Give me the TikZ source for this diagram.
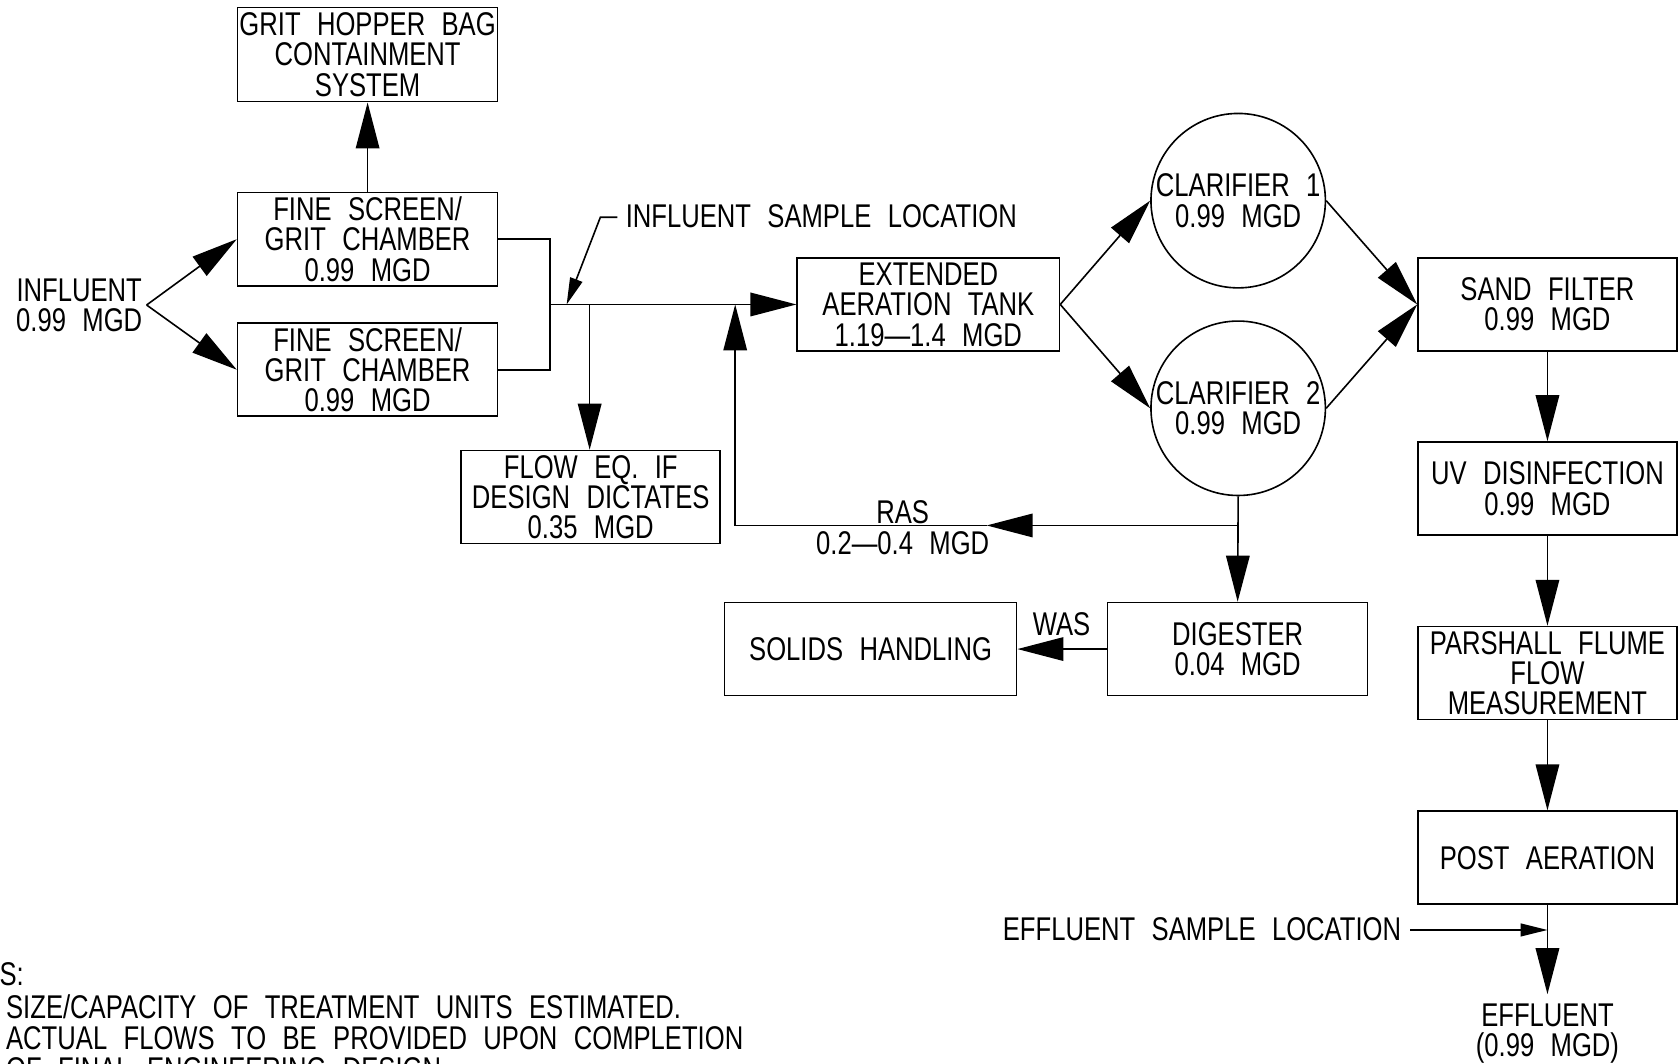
\documentclass[tikz,border=0pt]{standalone}
\usepackage{fontspec}
\setmainfont{Liberation Sans}[FakeStretch=0.78,WordSpace=2.3]
\usetikzlibrary{arrows.meta}
\newcommand\cadfont{\fontsize{30.7}{28.4}\selectfont\lineskiplimit=-100pt }
\begin{document}
\begin{tikzpicture}[x=1pt,y=-1pt,line width=1.5pt,
  txt/.style={font=\cadfont,align=center,inner sep=0pt},
  box/.style={draw,rectangle,minimum width=243pt,minimum height=87pt,inner sep=0pt,font=\cadfont,align=center},
  clar/.style={draw,circle,minimum size=163pt,inner sep=0pt,font=\cadfont,align=center},
  big/.style={-{Triangle[length=43pt,width=22pt]}},
  small/.style={-{Triangle[length=25pt,width=12pt]}}]
\clip (0,0) rectangle (1568,994);
\fill[white] (0,0) rectangle (1568,994);

% boxes
\node[box,minimum height=88pt] (grit) at (343.5,51) {GRIT HOPPER BAG\\CONTAINMENT\\SYSTEM};
\node[box] (fs1) at (343.5,223.5) {FINE SCREEN/\\GRIT CHAMBER\\0.99 MGD};
\node[box] (fs2) at (343.5,345.5) {FINE SCREEN/\\GRIT CHAMBER\\0.99 MGD};
\node[box,minimum width=242pt] (feq) at (552,464.5) {FLOW EQ. IF\\DESIGN DICTATES\\0.35 MGD};
\node[box,minimum width=245pt] (aer) at (867.5,284.5) {EXTENDED\\AERATION TANK\\1.19—1.4 MGD};
\node[clar] (c1) at (1157,187.5) {CLARIFIER 1\\0.99 MGD};
\node[clar] (c2) at (1157,381.5) {CLARIFIER 2\\0.99 MGD};
\node[box,minimum width=242pt] (sand) at (1446,284.5) {SAND FILTER\\0.99 MGD};
\node[box,minimum width=242pt] (uv) at (1446,456.5) {UV DISINFECTION\\0.99 MGD};
\node[box,minimum width=242pt] (pf) at (1446,629) {PARSHALL FLUME\\FLOW\\MEASUREMENT};
\node[box,minimum width=242pt] (pa) at (1446,801.5) {POST AERATION};
\node[box] (dig) at (1156.5,606.5) {DIGESTER\\0.04 MGD};
\node[box,minimum width=273pt] (sol) at (813.5,606.5) {SOLIDS HANDLING};

% free texts
\node[txt] (inf) at (74,285.5) {INFLUENT\\0.99 MGD};
\node[txt,anchor=north] (eff) at (1446,937) {EFFLUENT\\(0.99 MGD)};
\node[txt,anchor=base west] (isl) at (584,213) {INFLUENT SAMPLE LOCATION};
\node[txt,anchor=base east] (esl) at (1310,879) {EFFLUENT SAMPLE LOCATION};
\node[txt] (ras) at (843.5,493) {RAS\\0.2—0.4 MGD};
\node[txt] (was) at (992,583) {WAS};

% notes
\node[txt,anchor=base east] (n0) at (23,921) {NOTES:};
\node[txt,anchor=base west] (n1) at (5,952) {SIZE/CAPACITY OF TREATMENT UNITS ESTIMATED.};
\node[txt,anchor=base west] (n2) at (5,981) {ACTUAL FLOWS TO BE PROVIDED UPON COMPLETION};
\node[txt,anchor=base west] (n3) at (5,1010) {OF FINAL ENGINEERING DESIGN};

% coordinates
\coordinate (i0) at (137,285);
\coordinate (jn) at (514,284.5);
\coordinate (fb) at (551,284.5);
\coordinate (sp) at (529.5,284.5);
\coordinate (rb) at (1157,491);
\coordinate (rt) at (922,491);
\coordinate (rc) at (687,491);
\coordinate (ru) at (687,284.5);
\coordinate (es) at (1446,869);

% connectors
\draw[big] (fs1.north) -- (grit.south);
\draw[big] (i0) -- (fs1.west);
\draw[big] (i0) -- (fs2.west);
\draw (fs1.east) -| (jn) |- (fs2.east);
\draw[big] (jn) -- (aer.west);
\draw[big] (fb) -- (fb |- feq.north);
\draw[small] ([xshift=-7pt]isl.west |- 0,203) -- ++(-16,0) -- (sp);
\draw[big] (aer.east) -- (c1.west);
\draw[big] (aer.east) -- (c2.west);
\draw[big] (c1.east) -- (sand.west);
\draw[big] (c2.east) -- (sand.west);
\draw[big] (c2.south) -- (dig.north);
\draw[big] (rb) -- (rt);
\draw[big] (rt) -- (rc) -- (ru);
\draw[big] (dig.west) -- (sol.east);
\draw[big] (sand.south) -- (uv.north);
\draw[big] (uv.south) -- (pf.north);
\draw[big] (pf.south) -- (pa.north);
\draw[big] (pa.south) -- ([yshift=8pt]eff.north);
\draw[small] ([xshift=8pt]esl.east |- es) -- (es);
\end{tikzpicture}
\end{document}
